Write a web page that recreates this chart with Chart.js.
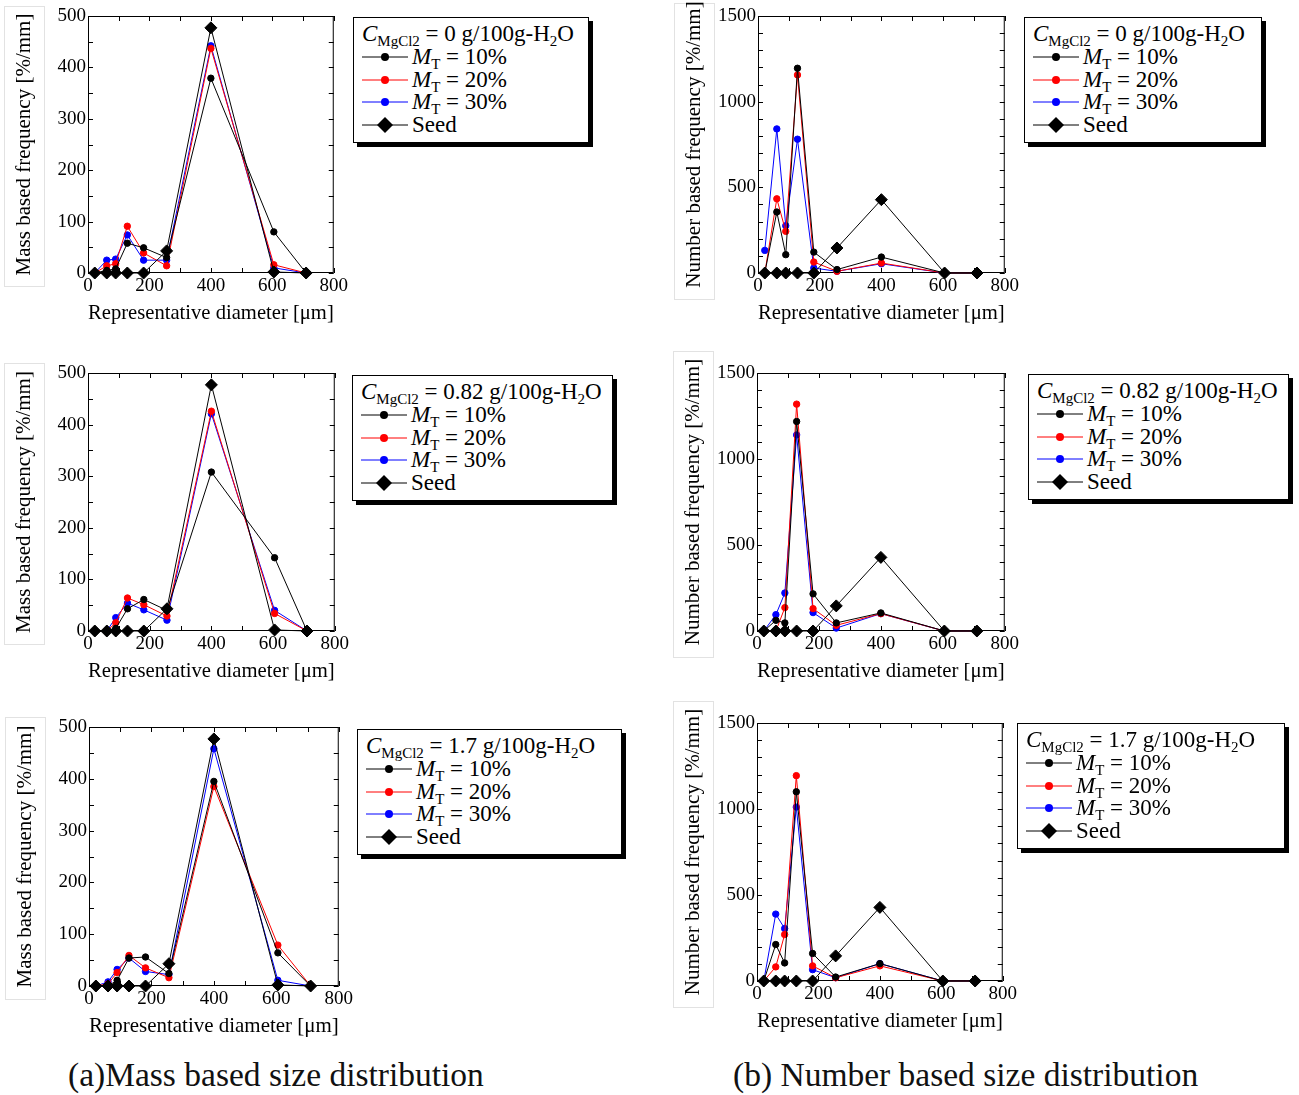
<!DOCTYPE html>
<html>
<head>
<meta charset="utf-8">
<script src="https://cdn.jsdelivr.net/npm/chart.js@4.4.1/dist/chart.umd.min.js"></script>
<style>
body{margin:0;background:#fff;width:1299px;height:1095px;position:relative;overflow:hidden;font-family:"Liberation Serif","Times New Roman",serif;color:#000}
.panel{position:absolute}
.ybox{position:absolute;border:1px solid #e2e2e2;box-sizing:border-box}
.legend{position:absolute;border:1px solid #000;box-shadow:4px 4px 0 #000;background:#fff;font-size:23px;padding:4px 0 0 8px;box-sizing:border-box}
.legend .ttl{white-space:nowrap;height:24px;line-height:24px}
.legend .row{display:flex;align-items:center;height:22.5px;white-space:nowrap;line-height:22px}
.legend svg{margin-right:4px;flex:none}
.legend i{font-style:italic}
.legend sub{font-size:15px;line-height:0;vertical-align:-5px;font-style:normal}
.cap{position:absolute;font-size:33.5px;top:1056px;white-space:nowrap;color:#111}
</style>
</head>
<body>
<div class="cap" style="left:68px">(a)Mass based size distribution</div>
<div class="cap" style="left:733px">(b) Number based size distribution</div>
<script>
// representative diameters [um]
var diameters = [22, 61, 90, 128, 181, 256, 400, 605, 710];

var seedMass   = [0, 0, 0, 0, 0, 43, 477, 2, 0];
var seedNumber = [0, 0, 0, 0, 0, 146, 428, 0, 0];

// mass based, C = 0 / 0.82 / 1.7
var mass0_mt10 = [0, 5, 8, 58, 49, 30, 379, 80, 0];
var mass0_mt20 = [0, 14, 18, 91, 39, 14, 437, 16, 0];
var mass0_mt30 = [0, 25, 27, 74, 25, 25, 442, 10, 0];

var mass1_mt10 = [0, 0, 5, 43, 61, 40, 308, 142, 0];
var mass1_mt20 = [0, 0, 16, 64, 51, 29, 426, 34, 0];
var mass1_mt30 = [0, 0, 26, 54, 41, 21, 421, 40, 0];

var mass2_mt10 = [0, 0, 11, 54, 56, 24, 395, 64, 0];
var mass2_mt20 = [0, 4, 26, 59, 35, 16, 385, 79, 0];
var mass2_mt30 = [0, 8, 32, 54, 28, 22, 458, 11, 0];

// number based
var num0_mt10 = [0, 356, 107, 1195, 122, 20, 93, 0, 0];
var num0_mt20 = [0, 433, 243, 1156, 64, 10, 58, 0, 0];
var num0_mt30 = [132, 841, 276, 781, 29, 10, 54, 0, 0];

var num1_mt10 = [0, 62, 47, 1218, 216, 47, 105, 0, 0];
var num1_mt20 = [0, 0, 136, 1319, 130, 33, 101, 0, 0];
var num1_mt30 = [0, 95, 221, 1140, 107, 17, 101, 0, 0];

var num2_mt10 = [0, 212, 105, 1100, 160, 23, 101, 0, 0];
var num2_mt20 = [0, 82, 270, 1194, 88, 19, 88, 0, 0];
var num2_mt30 = [0, 389, 305, 1011, 66, 19, 101, 0, 0];

var concLabels = ['0', '0.82', '1.7'];
var mtLabels = ['10%', '20%', '30%'];
var mtColors = ['#000000', '#ff0000', '#0000ff'];

var xTickLabels = [0, 200, 400, 600, 800];
var massTickLabels = [0, 100, 200, 300, 400, 500];
var numberTickLabels = [0, 500, 1000, 1500];

var xTitle = 'Representative diameter [\u03bcm]';
var massTitle = 'Mass based frequency [%/mm]';
var numberTitle = 'Number based frequency [%/mm]';

// plot boxes on the page: [left, top, right, bottom], legend [left, top, width]
var panels = [
  {box:[88,16,344,273],   leg:[353,17,236],  kind:'mass',   c:0, data:[mass0_mt10,mass0_mt20,mass0_mt30]},
  {box:[758,16,1015,273], leg:[1024,17,238], kind:'number', c:0, data:[num0_mt10,num0_mt20,num0_mt30]},
  {box:[88,373,345,631],  leg:[352,375,261], kind:'mass',   c:1, data:[mass1_mt10,mass1_mt20,mass1_mt30]},
  {box:[757,373,1015,631],leg:[1028,374,261],kind:'number', c:1, data:[num1_mt10,num1_mt20,num1_mt30]},
  {box:[89,727,349,986],  leg:[357,729,265], kind:'mass',   c:2, data:[mass2_mt10,mass2_mt20,mass2_mt30]},
  {box:[757,723,1013,981],leg:[1017,723,268],kind:'number', c:2, data:[num2_mt10,num2_mt20,num2_mt30]}
];

var tickFont = {family:'"Liberation Serif", serif', size:19};
var titleFont = {family:'"Liberation Serif", serif', size:21};

// frame and inward ticks on all four sides
var frameTicks = {
  id: 'frameTicks',
  beforeDatasetsDraw: function (chart) {
    var ctx = chart.ctx, a = chart.chartArea;
    var xs = chart.scales.x, ys = chart.scales.y;
    ctx.save();
    ctx.strokeStyle = '#000';
    ctx.lineWidth = 1;
    ctx.strokeRect(a.left + 0.5, a.top + 0.5, a.right - a.left - 1, a.bottom - a.top - 1);
    ctx.beginPath();
    xs.ticks.forEach(function (t) {
      var px = Math.round(xs.getPixelForValue(t.value)) + 0.5;
      ctx.moveTo(px, a.bottom); ctx.lineTo(px, a.bottom - 5);
      ctx.moveTo(px, a.top); ctx.lineTo(px, a.top + 5);
    });
    ys.ticks.forEach(function (t) {
      var py = Math.round(ys.getPixelForValue(t.value)) + 0.5;
      ctx.moveTo(a.left, py); ctx.lineTo(a.left + 5, py);
      ctx.moveTo(a.right, py); ctx.lineTo(a.right - 5, py);
    });
    ctx.stroke();
    ctx.restore();
  }
};

function pts(vals) {
  return diameters.map(function (d, i) { return {x: d, y: vals[i]}; });
}

function lineSample(color, diamond) {
  var m = diamond
    ? '<polygon points="23,3 31,11 23,19 15,11" fill="#000"/>'
    : '<circle cx="23" cy="11" r="4" fill="' + color + '"/>';
  return '<svg width="46" height="22"><line x1="0" y1="11" x2="46" y2="11" stroke="' + color + '" stroke-width="1"/>' + m + '</svg>';
}

function buildLegend(p) {
  var d = document.createElement('div');
  d.className = 'legend';
  d.style.left = p.leg[0] + 'px';
  d.style.top = p.leg[1] + 'px';
  d.style.width = p.leg[2] + 'px';
  d.style.height = '126px';
  var html = '<div class="ttl"><i>C</i><sub>MgCl2</sub> = ' + concLabels[p.c] + ' g/100g-H<sub>2</sub>O</div>';
  for (var i = 0; i < 3; i++) {
    html += '<div class="row">' + lineSample(mtColors[i], false) + '<span><i>M</i><sub>T</sub> = ' + mtLabels[i] + '</span></div>';
  }
  html += '<div class="row">' + lineSample('#000', true) + '<span>Seed</span></div>';
  d.innerHTML = html;
  document.body.appendChild(d);
}

function buildPanel(p) {
  var L = p.box[0], T = p.box[1], R = p.box[2], B = p.box[3];
  var padL = 88, padT = 16, padR = 6, padB = 57;
  var isMass = p.kind === 'mass';

  var yb = document.createElement('div');
  yb.className = 'ybox';
  var bt = isMass ? T - 10 : Math.max(T - 22, 3);
  var bb = isMass ? B + 14 : B + 27;
  yb.style.left = (L - 84) + 'px';
  yb.style.top = bt + 'px';
  yb.style.width = '41px';
  yb.style.height = (bb - bt) + 'px';
  document.body.appendChild(yb);

  var wrap = document.createElement('div');
  wrap.className = 'panel';
  wrap.style.left = (L - padL) + 'px';
  wrap.style.top = (T - padT) + 'px';
  var cv = document.createElement('canvas');
  cv.width = padL + (R - L) + padR;
  cv.height = padT + (B - T) + padB;
  wrap.appendChild(cv);
  document.body.appendChild(wrap);

  var ymax = isMass ? 500 : 1500;
  var ystep = isMass ? 50 : 100;
  var ylabs = isMass ? massTickLabels : numberTickLabels;
  var seed = isMass ? seedMass : seedNumber;

  var ds = [{
    label: 'Seed', data: pts(seed), showLine: true,
    borderColor: '#000', backgroundColor: '#000', borderWidth: 1,
    pointStyle: 'rectRot', pointRadius: 6, clip: false
  }];
  for (var i = 0; i < 3; i++) {
    ds.push({
      label: 'MT = ' + mtLabels[i], data: pts(p.data[i]), showLine: true,
      borderColor: mtColors[i], backgroundColor: mtColors[i], borderWidth: 1,
      pointStyle: 'circle', pointRadius: 3.2, clip: false
    });
  }

  new Chart(cv, {
    type: 'scatter',
    data: {datasets: ds},
    options: {
      responsive: false,
      animation: false,
      devicePixelRatio: 1,
      layout: {padding: {left: 0, top: padT, right: padR, bottom: 0}},
      plugins: {legend: {display: false}, tooltip: {enabled: false}},
      scales: {
        x: {
          type: 'linear', min: 0, max: 800,
          grid: {display: false, drawTicks: false}, border: {display: false},
          ticks: {
            stepSize: 100, autoSkip: false, maxRotation: 0, padding: 2,
            color: '#000', font: tickFont,
            callback: function (v) { return xTickLabels.indexOf(v) >= 0 ? String(v) : ''; }
          },
          title: {display: true, text: xTitle, color: '#000', font: titleFont, padding: {top: 0, bottom: 4}},
          afterFit: function (s) { s.height = padB; }
        },
        y: {
          min: 0, max: ymax,
          grid: {display: false, drawTicks: false}, border: {display: false},
          ticks: {
            stepSize: ystep, autoSkip: false, padding: 2,
            color: '#000', font: tickFont,
            callback: function (v) { return ylabs.indexOf(v) >= 0 ? String(v) : ''; }
          },
          title: {display: true, text: isMass ? massTitle : numberTitle, color: '#000', font: titleFont, padding: {top: 12, bottom: 0}},
          afterFit: function (s) { s.width = padL; }
        }
      }
    },
    plugins: [frameTicks]
  });

  buildLegend(p);
}

panels.forEach(buildPanel);
</script>
</body>
</html>
